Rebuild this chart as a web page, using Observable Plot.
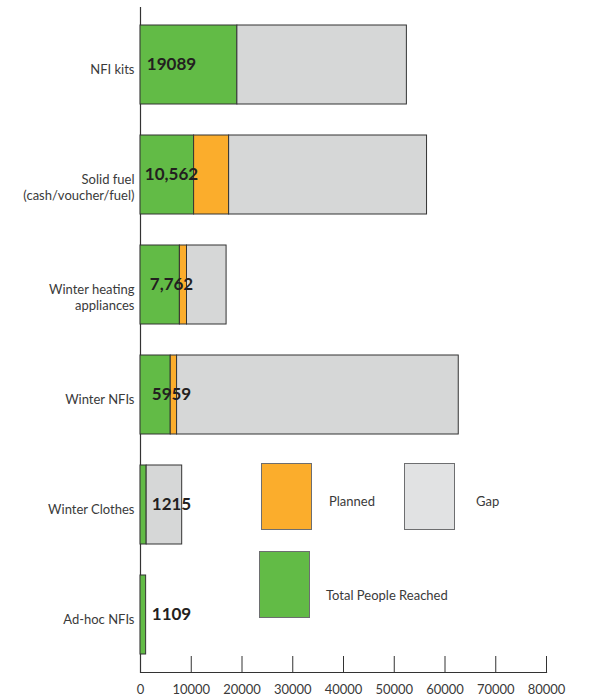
<!DOCTYPE html>
<html>
<head>
<meta charset="utf-8">
<script src="https://cdn.jsdelivr.net/npm/d3@7"></script>
<script src="https://cdn.jsdelivr.net/npm/@observablehq/plot@0.6"></script>
<style>
  html, body { margin: 0; padding: 0; background: #fff; }
  #wrap { position: relative; width: 591px; height: 700px; font-family: Lato, "Open Sans", sans-serif; }
  .lg-box { position: absolute; box-sizing: border-box; border: 1.5px solid #6d6e70; }
  .lg-text { position: absolute; font-size: 13px; color: #3a3a3a; transform: translateY(-50%); white-space: nowrap; }
</style>
</head>
<body>
<div id="wrap"></div>
<script>
// ---- data ----
const categories = [
  "NFI kits",
  "Solid fuel\n(cash/voucher/fuel)",
  "Winter heating\nappliances",
  "Winter NFIs",
  "Winter Clothes",
  "Ad-hoc NFIs"
];
const reached = [19089, 10562, 7762, 5959, 1215, 1109];
const planned = [0, 6900, 1400, 1250, 0, 0];
const gap = [33400, 39000, 7800, 55500, 7000, 0];
const reachedLabels = ["19089", "10,562", "7,762", "5959", "1215", "1109"];
const series = ["Total People Reached", "Planned", "Gap"];
const seriesColors = ["#62bb46", "#fbad2c", "#d6d7d7"];
const xTicks = [0, 10000, 20000, 30000, 40000, 50000, 60000, 70000, 80000];

// long table for stacking
const table = [];
categories.forEach((c, i) => {
  [reached[i], planned[i], gap[i]].forEach((v, j) => {
    if (v > 0) table.push({category: c, series: series[j], value: v, order: j});
  });
});
const labels = categories.map((c, i) => ({category: c, label: reachedLabels[i]}));

const W = 591, H = 700, mt = 7, mb = 28, ml = 140, mr = 45;

const chart = Plot.plot({
  width: W,
  height: H,
  marginTop: mt,
  marginBottom: mb,
  marginLeft: ml,
  marginRight: mr,
  style: {fontFamily: "Lato, 'Open Sans', sans-serif", background: "#fff"},
  x: {domain: [0, 80000], ticks: xTicks},
  y: {domain: categories, paddingInner: 0.28, paddingOuter: 0.14, label: null},
  color: {domain: series, range: seriesColors},
  marks: [
    Plot.ruleX([0], {stroke: "#333", strokeWidth: 1.2}),
    Plot.frame({anchor: "bottom", stroke: "#333", strokeWidth: 1.2}),
    Plot.tickX(xTicks.slice(1), {x: d => d, stroke: "#333", strokeWidth: 1, insetTop: H - mt - mb - 16}),
    Plot.barX(table, Plot.stackX({
      y: "category", x: "value", fill: "series", order: "order",
      stroke: "#333", strokeWidth: 1, insetTop: 0, insetBottom: 0
    })),
    Plot.text(labels, {
      y: "category", x: 0, text: "label", textAnchor: "middle", dx: 31,
      fontSize: 17, fontWeight: "bold", fill: "#231f20"
    }),
    Plot.axisY({
      tickSize: 0, tickPadding: 6, lineAnchor: "top", lineHeight: 1.25, dy: -3,
      fontSize: 13, fill: "#3a3a3a", label: null
    }),
    Plot.axisX({
      ticks: xTicks, tickSize: 0, tickPadding: 12, tickFormat: d => String(d),
      fontSize: 13, fill: "#3a3a3a", label: null
    })
  ]
});

const wrap = document.getElementById("wrap");
wrap.appendChild(chart);

// legend overlay (drawn inside the plot area as in the reference)
const legendItems = [
  {name: series[1], color: seriesColors[1], box: [261, 463, 51, 67], text: [329, 501]},
  {name: series[2], color: "#e1e2e3", box: [404, 463, 51, 67], text: [476, 501]},
  {name: series[0], color: seriesColors[0], box: [259, 551, 51, 67], text: [326, 595]}
];
legendItems.forEach(it => {
  const b = document.createElement("div");
  b.className = "lg-box";
  b.style.left = it.box[0] + "px"; b.style.top = it.box[1] + "px";
  b.style.width = it.box[2] + "px"; b.style.height = it.box[3] + "px";
  b.style.background = it.color;
  wrap.appendChild(b);
  const t = document.createElement("div");
  t.className = "lg-text";
  t.style.left = it.text[0] + "px"; t.style.top = it.text[1] + "px";
  t.textContent = it.name;
  wrap.appendChild(t);
});
</script>
</body>
</html>
